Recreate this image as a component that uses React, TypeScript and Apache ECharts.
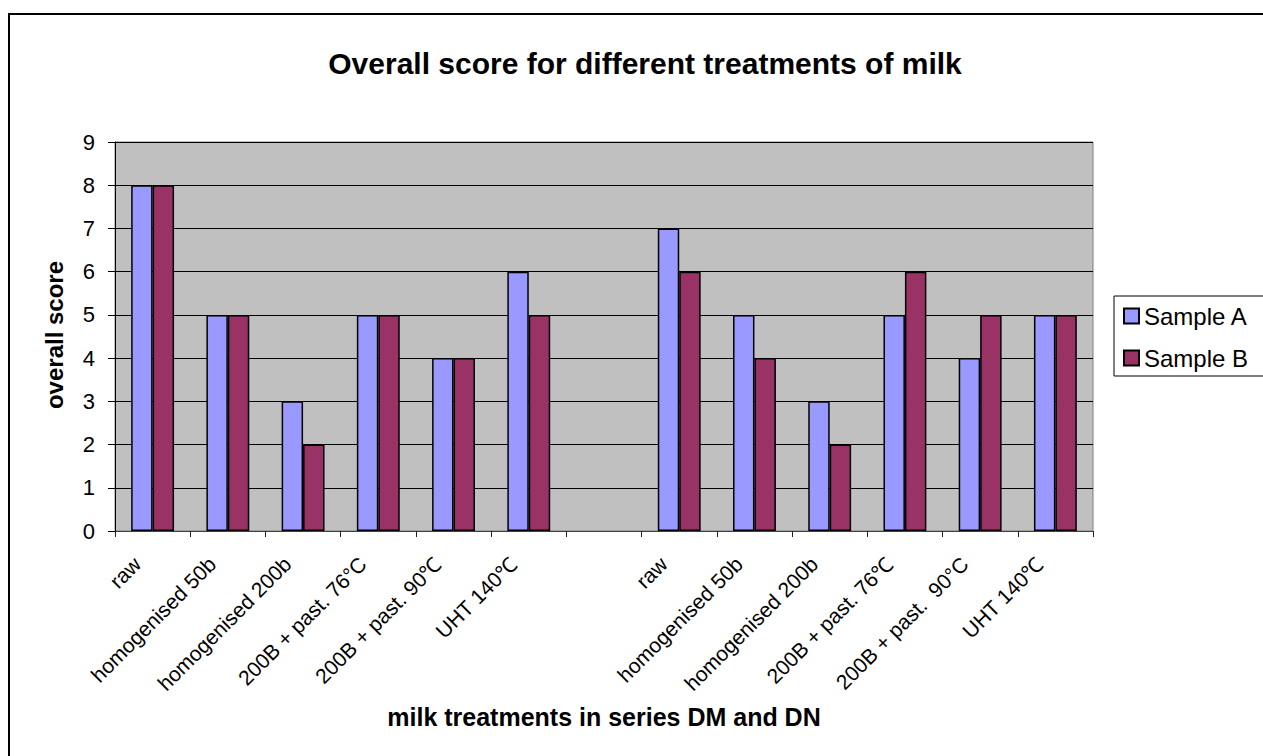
import React, { useEffect, useRef } from "react";
import * as echarts from "echarts";

const categories = [
  "raw",
  "homogenised 50b",
  "homogenised 200b",
  "200B + past. 76°C",
  "200B + past. 90℃",
  "UHT 140℃",
  "",
  "raw",
  "homogenised 50b",
  "homogenised 200b",
  "200B + past. 76℃",
  "200B + past.  90°C",
  "UHT 140℃",
];
const sampleA = [8, 5, 3, 5, 4, 6, null, 7, 5, 3, 5, 4, 5];
const sampleB = [8, 5, 2, 5, 4, 5, null, 6, 4, 2, 6, 5, 5];
const yTicks = { min: 0, max: 9, interval: 1 };

const FONT = '"Liberation Sans", Arial, sans-serif';

export default function App() {
  const ref = useRef<HTMLDivElement>(null);

  useEffect(() => {
    document.body.style.margin = "0";
    const chart = echarts.init(ref.current!, null, { renderer: "svg" });
    chart.setOption({
      animation: false,
      backgroundColor: "#ffffff",
      textStyle: { fontFamily: FONT },
      title: {
        text: "Overall score for different treatments of milk",
        left: 640,
        textAlign: "center",
        top: 43,
        textStyle: { fontFamily: FONT, fontSize: 30, fontWeight: "bold", color: "#000" },
      },
      legend: {
        orient: "vertical",
        left: 1114,
        top: 296,
        padding: [8, 60, 6, 9],
        itemGap: 18,
        itemWidth: 15,
        itemHeight: 15,
        icon: "rect",
        backgroundColor: "#ffffff",
        borderColor: "#000",
        borderWidth: 1,
        textStyle: { fontFamily: FONT, fontSize: 24, color: "#000" },
        data: ["Sample A", "Sample B"],
      },
      grid: {
        left: 115,
        top: 142,
        right: 170,
        bottom: 225,
        show: true,
        backgroundColor: "#C0C0C0",
        borderColor: "#808080",
        borderWidth: 1,
      },
      xAxis: {
        type: "category",
        data: categories,
        boundaryGap: true,
        axisLine: { show: true, lineStyle: { color: "#404040", width: 1 } },
        axisTick: {
          show: true,
          inside: false,
          length: 6,
          interval: 0,
          lineStyle: { color: "#202020" },
        },
        axisLabel: {
          interval: 0,
          rotate: 45,
          margin: 14,
          padding: [0, 22, 0, 0],
          fontFamily: FONT,
          fontSize: 21,
          color: "#000",
        },
      },
      yAxis: {
        type: "value",
        min: yTicks.min,
        max: yTicks.max,
        interval: yTicks.interval,
        axisLine: { show: true, lineStyle: { color: "#000", width: 1 } },
        axisTick: { show: true, inside: false, length: 7, lineStyle: { color: "#000" } },
        axisLabel: { margin: 20, fontFamily: FONT, fontSize: 22, color: "#000" },
        splitLine: { show: true, lineStyle: { color: "#000", width: 1 } },
      },
      series: [
        {
          name: "Sample A",
          type: "bar",
          data: sampleA,
          barGap: "0%",
          barCategoryGap: "43%",
          itemStyle: { color: "#9999FF", borderColor: "#000", borderWidth: 1.5 },
        },
        {
          name: "Sample B",
          type: "bar",
          data: sampleB,
          barGap: "0%",
          barCategoryGap: "43%",
          itemStyle: { color: "#993366", borderColor: "#000", borderWidth: 1.5 },
        },
      ],
      graphic: [
        {
          type: "rect",
          shape: { x: 9, y: 14, width: 1400, height: 900 },
          style: { fill: "none", stroke: "#000", lineWidth: 2 },
          z: 100,
          silent: true,
        },
        {
          type: "text",
          x: 604,
          y: 717,
          style: {
            text: "milk treatments in series DM and DN",
            fontFamily: FONT,
            fontSize: 25,
            fontWeight: "bold",
            fill: "#000",
            align: "center",
            verticalAlign: "middle",
          },
        },
        {
          type: "text",
          x: 54,
          y: 335,
          rotation: Math.PI / 2,
          style: {
            text: "overall score",
            fontFamily: FONT,
            fontSize: 24,
            fontWeight: "bold",
            fill: "#000",
            align: "center",
            verticalAlign: "middle",
          },
        },
      ],
    });
    return () => chart.dispose();
  }, []);

  return <div ref={ref} style={{ width: 1263, height: 756 }} />;
}
